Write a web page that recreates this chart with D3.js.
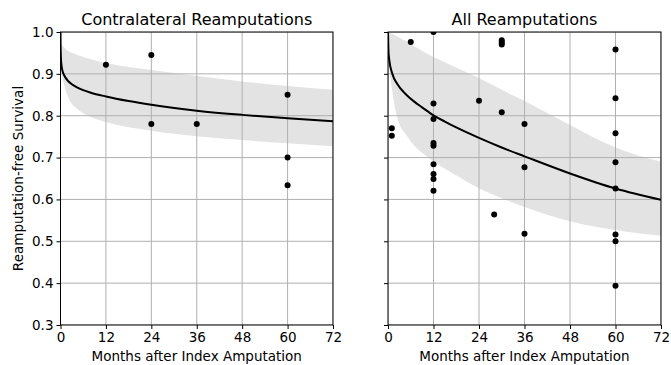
<!DOCTYPE html>
<html>
<head>
<meta charset="utf-8">
<script src="https://cdn.jsdelivr.net/npm/d3@7"></script>
<style>
  html, body { margin: 0; padding: 0; background: #fff; }
  svg { display: block; font-family: "DejaVu Sans", sans-serif; }
</style>
</head>
<body>
<svg id="chart" width="671" height="365"></svg>
<script>
// ticks
const xTicks = [0, 12, 24, 36, 48, 60, 72];
const yTicks = [0.3, 0.4, 0.5, 0.6, 0.7, 0.8, 0.9, 1.0];

// Contralateral panel: fitted curve [month, survival]
const contraCurve = [[0, 1.0], [0.02, 0.97], [0.08, 0.945], [0.2, 0.926], [0.5, 0.908], [1, 0.896], [2, 0.883], [3, 0.875], [4.5, 0.867], [6, 0.861], [8, 0.855], [12, 0.846], [18, 0.835], [24, 0.826], [36, 0.812], [48, 0.802], [60, 0.794], [72, 0.787]];
// confidence band
const contraBandMonths = [0, 0.3, 1, 2, 4.5, 8, 12, 24, 36, 48, 60, 72];
const contraUpper = [0.975, 0.97, 0.962, 0.955, 0.945, 0.935, 0.926, 0.909, 0.895, 0.882, 0.871, 0.862];
const contraLower = [0.95, 0.905, 0.873, 0.845, 0.816, 0.797, 0.785, 0.764, 0.751, 0.742, 0.734, 0.727];
// observed points
const contraPoints = [[12, 0.922], [24, 0.945], [24, 0.78], [36, 0.78], [60, 0.85], [60, 0.70], [60, 0.634]];

// All reamputations panel
const allCurve = [[0, 1.0], [0.1, 0.96], [0.3, 0.935], [1.15, 0.9], [2.5, 0.875], [4.5, 0.853], [7, 0.833], [9, 0.82], [12, 0.801], [15, 0.786], [18, 0.772], [24, 0.747], [30, 0.724], [36, 0.703], [48, 0.662], [60, 0.626], [72, 0.599]];
const allBandMonths = [0, 0.2, 0.5, 1.2, 2.3, 5.3, 10.6, 16.8, 24, 30, 36, 48, 60, 72];
const allUpper = [1.0, 1.0, 0.998, 0.995, 0.99, 0.975, 0.947, 0.92, 0.89, 0.862, 0.835, 0.778, 0.724, 0.69];
const allLower = [0.97, 0.93, 0.9, 0.855, 0.8, 0.748, 0.70, 0.664, 0.627, 0.603, 0.582, 0.548, 0.527, 0.513];
const allPoints = [
  [1, 0.770], [1, 0.752], [6, 0.976],
  [12, 1.0], [12, 0.829], [12, 0.792], [12, 0.735], [12, 0.728], [12, 0.684], [12, 0.661], [12, 0.649], [12, 0.621],
  [24, 0.836], [28, 0.564],
  [30, 0.980], [30, 0.975], [30, 0.970], [30, 0.808],
  [36, 0.780], [36, 0.677], [36, 0.518],
  [60, 0.958], [60, 0.842], [60, 0.758], [60, 0.689], [60, 0.626], [60, 0.516], [60, 0.500], [60, 0.394]
];

const titles = ["Contralateral Reamputations", "All Reamputations"];
const xLabel = "Months after Index Amputation";
const yLabel = "Reamputation-free Survival";

const svg = d3.select('#chart');
const plotTop = 32, plotBottom = 325;
const panels = [
  { left: 60.5, right: 333, title: titles[0], curve: contraCurve, months: contraBandMonths, upper: contraUpper, lower: contraLower, points: contraPoints, yLabels: true },
  { left: 388, right: 661, title: titles[1], curve: allCurve, months: allBandMonths, upper: allUpper, lower: allLower, points: allPoints, yLabels: false }
];

const y = d3.scaleLinear().domain([0.3, 1.0]).range([plotBottom, plotTop]);
const fontFamily = '"DejaVu Sans", sans-serif';

panels.forEach((p, i) => {
  const x = d3.scaleLinear().domain([0, 72]).range([p.left, p.right]);
  const g = svg.append('g');

  g.append('clipPath').attr('id', 'clip' + i)
    .append('rect')
    .attr('x', p.left).attr('y', plotTop)
    .attr('width', p.right - p.left).attr('height', plotBottom - plotTop);

  const plot = g.append('g').attr('clip-path', `url(#clip${i})`);

  // confidence band
  const area = d3.area()
    .x((t, j) => x(t))
    .y0((t, j) => y(p.lower[j]))
    .y1((t, j) => y(p.upper[j]))
    .curve(d3.curveMonotoneX);
  plot.append('path').datum(p.months)
    .attr('d', area)
    .attr('fill', '#e3e3e3');

  // grid
  plot.selectAll('.vgrid').data(xTicks).enter().append('line')
    .attr('x1', d => x(d)).attr('x2', d => x(d))
    .attr('y1', plotTop).attr('y2', plotBottom)
    .attr('stroke', '#b0b0b0').attr('stroke-width', 1);
  plot.selectAll('.hgrid').data(yTicks).enter().append('line')
    .attr('x1', p.left).attr('x2', p.right)
    .attr('y1', d => y(d)).attr('y2', d => y(d))
    .attr('stroke', '#b0b0b0').attr('stroke-width', 1);

  // fitted curve
  const line = d3.line().x(d => x(d[0])).y(d => y(d[1])).curve(d3.curveMonotoneX);
  plot.append('path').datum(p.curve)
    .attr('d', line)
    .attr('fill', 'none')
    .attr('stroke', '#000')
    .attr('stroke-width', 2);

  // observed points
  plot.selectAll('.pt').data(p.points).enter().append('circle')
    .attr('cx', d => x(d[0])).attr('cy', d => y(d[1]))
    .attr('r', 3).attr('fill', '#000');

  // frame
  g.append('rect')
    .attr('x', p.left).attr('y', plotTop)
    .attr('width', p.right - p.left).attr('height', plotBottom - plotTop)
    .attr('fill', 'none').attr('stroke', '#000').attr('stroke-width', 1);

  // axes
  const xAxis = d3.axisBottom(x).tickValues(xTicks).tickSize(4).tickPadding(3).tickFormat(d3.format('d'));
  const xg = g.append('g').attr('transform', `translate(0,${plotBottom})`).call(xAxis);
  xg.select('.domain').remove();
  xg.selectAll('text').attr('font-size', 13.5).attr('fill', '#000').attr('font-family', fontFamily);

  const yAxis = d3.axisLeft(y).tickValues(yTicks).tickSize(4).tickPadding(3)
    .tickFormat(p.yLabels ? d3.format('.1f') : '');
  const yg = g.append('g').attr('transform', `translate(${p.left},0)`).call(yAxis);
  yg.select('.domain').remove();
  yg.selectAll('text').attr('font-size', 13.5).attr('fill', '#000').attr('font-family', fontFamily);

  // title and x label
  g.append('text')
    .attr('x', (p.left + p.right) / 2).attr('y', 25)
    .attr('text-anchor', 'middle').attr('font-size', 16)
    .text(p.title);
  g.append('text')
    .attr('x', (p.left + p.right) / 2).attr('y', 361)
    .attr('text-anchor', 'middle').attr('font-size', 13.5)
    .text(xLabel);
});

svg.append('text')
  .attr('transform', `translate(23,${(plotTop + plotBottom) / 2}) rotate(-90)`)
  .attr('text-anchor', 'middle').attr('font-size', 13.5)
  .text(yLabel);
</script>
</body>
</html>
